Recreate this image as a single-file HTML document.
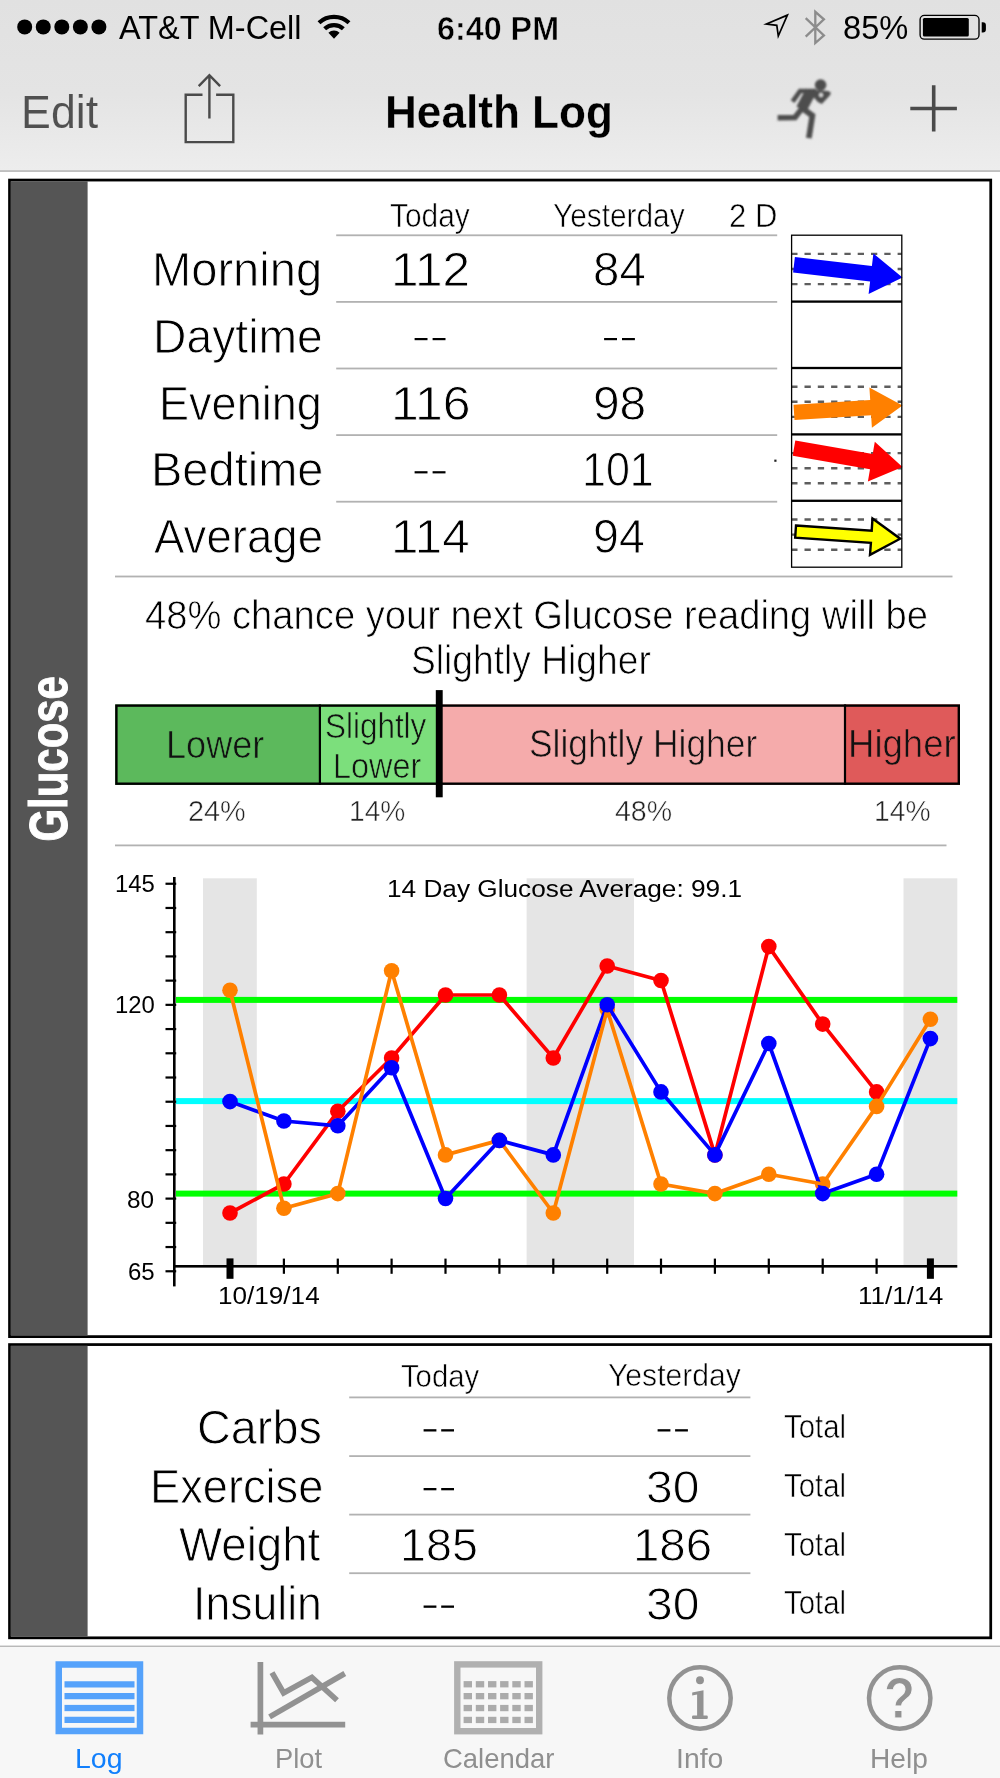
<!DOCTYPE html>
<html>
<head>
<meta charset="utf-8">
<title>Health Log</title>
<style>
html,body{margin:0;padding:0;background:#fff;}
body{width:1000px;height:1778px;overflow:hidden;font-family:"Liberation Sans",sans-serif;}
#root{position:relative;width:1000px;height:1778px;overflow:hidden;background:#fff;opacity:0.999;}
.t{position:absolute;white-space:nowrap;transform-origin:0 0;font-family:"Liberation Sans",sans-serif;color:#000;}
svg{position:absolute;left:0;top:0;}
</style>
</head>
<body>
<div id="root">
<svg width="1000" height="1778" viewBox="0 0 1000 1778">
<defs><linearGradient id="ng" x1="0" y1="0" x2="0" y2="1"><stop offset="0" stop-color="#e1e1e1"/><stop offset="0.55" stop-color="#e4e4e4"/><stop offset="1" stop-color="#ededed"/></linearGradient><filter id="bl" x="-10%" y="-10%" width="120%" height="120%"><feGaussianBlur stdDeviation="11"/></filter></defs>
<rect x="0" y="0" width="1000" height="170.6" fill="url(#ng)"/>
<rect x="0" y="170.3" width="1000" height="1.5" fill="#b0b0b0"/>
<circle cx="24.70" cy="26.9" r="7.5" fill="#000"/>
<circle cx="43.25" cy="26.9" r="7.5" fill="#000"/>
<circle cx="61.80" cy="26.9" r="7.5" fill="#000"/>
<circle cx="80.35" cy="26.9" r="7.5" fill="#000"/>
<circle cx="98.90" cy="26.9" r="7.5" fill="#000"/>
<path d="M319.00,22.71 A22,22 0 0 1 349.00,22.71" fill="none" stroke="#000" stroke-width="4.2"/>
<path d="M324.66,28.78 A13.7,13.7 0 0 1 343.34,28.78" fill="none" stroke="#000" stroke-width="4.2"/>
<path d="M334.0,38.8 L328.41,32.80 A8.2,8.2 0 0 1 339.59,32.80 Z" fill="#000"/>
<path d="M787.4,15.1 L766.4,24.0 L776.8,25.3 L778.3,36.0 Z" fill="none" stroke="#000" stroke-width="1.7" stroke-miterlimit="10" stroke-linejoin="miter"/>
<path d="M805.7,18.1 L823.9,35.4 L815.3,43.0 L815.3,11.8 L823.9,19.4 L805.7,36.7" fill="none" stroke="#8c8c8c" stroke-width="2.3" stroke-linejoin="miter"/>
<rect x="920.1" y="15.4" width="58.9" height="23.8" rx="4.2" ry="4.2" fill="none" stroke="#000" stroke-width="1.35"/>
<rect x="922.9" y="18.1" width="45.9" height="18.4" rx="1.5" fill="#000"/>
<path d="M981.7,22.2 h1.2 a3,3 0 0 1 3,3 v4.2 a3,3 0 0 1 -3,3 h-1.2 Z" fill="#000"/>
<path d="M202.5,94.8 H185.7 V142.1 H233.3 V94.8 H216.1" fill="none" stroke="#4a4a4a" stroke-width="2.4"/>
<path d="M209.4,118.6 V75.6 M198.7,86.2 L209.4,75.2 L220.1,86.2" fill="none" stroke="#4a4a4a" stroke-width="2.4"/>
<g transform="translate(765,70) scale(0.08)" fill="#4d4d4d" stroke="#4d4d4d" stroke-linecap="butt" stroke-linejoin="miter" filter="url(#bl)">
<circle cx="695" cy="188" r="72" stroke="none"/>
<path d="M420,262 H640" fill="none" stroke-width="55"/>
<path d="M570,270 L455,490" fill="none" stroke-width="140"/>
<path d="M440,262 L345,395" fill="none" stroke-width="58"/>
<path d="M610,250 L790,262 L825,285 L810,320 L710,425 L660,400 L590,320 Z" stroke="none"/>
<circle cx="700" cy="313" r="24" fill="#e5e5e5" stroke="none"/>
<path d="M470,470 L375,594 L158,596" fill="none" stroke-width="70"/>
<path d="M470,480 L592,570 L548,852" fill="none" stroke-width="72"/>
</g>
<path d="M910.3,108.5 H956.9 M933.7,85.2 V131.6" fill="none" stroke="#4a4a4a" stroke-width="3.6"/>
<rect x="9.53" y="180.07" width="981.20" height="1156.55" fill="#fff" stroke="#000" stroke-width="2.75"/>
<rect x="10.70" y="181.25" width="76.90" height="1154.20" fill="#555"/>
<rect x="9.53" y="1344.58" width="981.20" height="293.25" fill="#fff" stroke="#000" stroke-width="2.75"/>
<rect x="10.70" y="1345.75" width="76.90" height="290.90" fill="#555"/>
<rect x="336.2" y="234.4" width="441" height="1.8" fill="#b2b2b2"/>
<rect x="336.2" y="301.0" width="441" height="1.8" fill="#b2b2b2"/>
<rect x="336.2" y="367.6" width="441" height="1.8" fill="#b2b2b2"/>
<rect x="336.2" y="434.2" width="441" height="1.8" fill="#b2b2b2"/>
<rect x="336.2" y="500.8" width="441" height="1.8" fill="#b2b2b2"/>
<rect x="115" y="575.6" width="837.5" height="1.8" fill="#b2b2b2"/>
<rect x="115" y="844.5" width="831.5" height="1.8" fill="#b2b2b2"/>
<rect x="774.3" y="459.6" width="2.2" height="2.2" fill="#222"/>
<rect x="414.6" y="338.0" width="12.9" height="2.2" fill="#000"/><rect x="432.6" y="338.0" width="12.9" height="2.2" fill="#000"/>
<rect x="604.1" y="338.0" width="12.9" height="2.2" fill="#000"/><rect x="622.0" y="338.0" width="12.9" height="2.2" fill="#000"/>
<rect x="414.6" y="471.2" width="12.9" height="2.2" fill="#000"/><rect x="432.6" y="471.2" width="12.9" height="2.2" fill="#000"/>
<path d="M791.2,253.9 H901.8" stroke="#5e5e5e" stroke-width="2.4" stroke-dasharray="6.3 7" fill="none"/>
<path d="M791.2,269.0 H901.8" stroke="#5e5e5e" stroke-width="2.4" stroke-dasharray="6.3 7" fill="none"/>
<path d="M791.2,284.1 H901.8" stroke="#5e5e5e" stroke-width="2.4" stroke-dasharray="6.3 7" fill="none"/>
<path d="M791.2,386.7 H901.8" stroke="#5e5e5e" stroke-width="2.4" stroke-dasharray="6.3 7" fill="none"/>
<path d="M791.2,401.8 H901.8" stroke="#5e5e5e" stroke-width="2.4" stroke-dasharray="6.3 7" fill="none"/>
<path d="M791.2,416.9 H901.8" stroke="#5e5e5e" stroke-width="2.4" stroke-dasharray="6.3 7" fill="none"/>
<path d="M791.2,453.1 H901.8" stroke="#5e5e5e" stroke-width="2.4" stroke-dasharray="6.3 7" fill="none"/>
<path d="M791.2,468.2 H901.8" stroke="#5e5e5e" stroke-width="2.4" stroke-dasharray="6.3 7" fill="none"/>
<path d="M791.2,483.3 H901.8" stroke="#5e5e5e" stroke-width="2.4" stroke-dasharray="6.3 7" fill="none"/>
<path d="M791.2,519.5 H901.8" stroke="#5e5e5e" stroke-width="2.4" stroke-dasharray="6.3 7" fill="none"/>
<path d="M791.2,534.6 H901.8" stroke="#5e5e5e" stroke-width="2.4" stroke-dasharray="6.3 7" fill="none"/>
<path d="M791.2,549.7 H901.8" stroke="#5e5e5e" stroke-width="2.4" stroke-dasharray="6.3 7" fill="none"/>
<polygon points="794.9,257.0 871.9,266.0 873.4,253.5 902.5,277.5 868.6,294.1 870.1,281.6 793.1,272.5" fill="#0000ff"/>
<polygon points="793.5,404.8 870.2,399.9 869.4,387.4 902.5,405.5 871.9,427.7 871.1,415.2 794.5,420.0" fill="#ff8000"/>
<polygon points="795.3,440.5 872.7,454.0 874.8,441.8 902.5,467.1 867.9,481.5 870.0,469.3 792.7,455.7" fill="#ff0000"/>
<polygon points="796.0,525.5 871.7,530.6 872.5,518.5 900.2,538.7 870.0,554.9 870.9,542.9 795.2,537.7" fill="#ffff00" stroke="#000" stroke-width="2.4" stroke-linejoin="miter"/>
<rect x="791.6" y="235.2" width="110.2" height="332.0" fill="none" stroke="#000" stroke-width="1.3"/>
<rect x="791.6" y="300.45" width="110.2" height="2.3" fill="#000"/>
<rect x="791.6" y="366.85" width="110.2" height="2.3" fill="#000"/>
<rect x="791.6" y="433.25" width="110.2" height="2.3" fill="#000"/>
<rect x="791.6" y="499.65" width="110.2" height="2.3" fill="#000"/>
<rect x="115.2" y="704.4" width="204.7" height="80.5" fill="#5cb95c"/>
<rect x="319.9" y="704.4" width="119.1" height="80.5" fill="#7cdf7c"/>
<rect x="439" y="704.4" width="406.0" height="80.5" fill="#f5abab"/>
<rect x="845" y="704.4" width="115.0" height="80.5" fill="#df5a5a"/>
<rect x="116.4" y="705.6" width="842.4" height="78.1" fill="none" stroke="#000" stroke-width="2.4"/>
<rect x="318.79999999999995" y="704.4" width="2.2" height="80.5" fill="#000"/>
<rect x="843.9" y="704.4" width="2.2" height="80.5" fill="#000"/>
<rect x="435.8" y="690.1" width="6.9" height="107.2" fill="#000"/>
<rect x="203" y="878.3" width="53.8" height="386.7" fill="#e5e5e5"/>
<rect x="526.6" y="878.3" width="107.4" height="386.7" fill="#e5e5e5"/>
<rect x="903.5" y="878.3" width="53.8" height="386.7" fill="#e5e5e5"/>
<rect x="176" y="996.9" width="781.3" height="6" fill="#00ff00"/>
<rect x="176" y="1190.6" width="781.3" height="6" fill="#00ff00"/>
<rect x="176" y="1098.1" width="781.3" height="6" fill="#00ffff"/>
<rect x="173.0" y="877" width="2.6" height="409.4" fill="#000"/>
<rect x="174" y="1265.0" width="783.3" height="2.6" fill="#000"/>
<rect x="165.5" y="882.65" width="10.7" height="2.2" fill="#000"/>
<rect x="165.5" y="906.87" width="10.7" height="2.2" fill="#000"/>
<rect x="165.5" y="931.09" width="10.7" height="2.2" fill="#000"/>
<rect x="165.5" y="955.31" width="10.7" height="2.2" fill="#000"/>
<rect x="165.5" y="979.53" width="10.7" height="2.2" fill="#000"/>
<rect x="165.5" y="1003.75" width="10.7" height="2.2" fill="#000"/>
<rect x="165.5" y="1027.97" width="10.7" height="2.2" fill="#000"/>
<rect x="165.5" y="1052.19" width="10.7" height="2.2" fill="#000"/>
<rect x="165.5" y="1076.41" width="10.7" height="2.2" fill="#000"/>
<rect x="165.5" y="1100.63" width="10.7" height="2.2" fill="#000"/>
<rect x="165.5" y="1124.85" width="10.7" height="2.2" fill="#000"/>
<rect x="165.5" y="1149.07" width="10.7" height="2.2" fill="#000"/>
<rect x="165.5" y="1173.29" width="10.7" height="2.2" fill="#000"/>
<rect x="165.5" y="1197.51" width="10.7" height="2.2" fill="#000"/>
<rect x="165.5" y="1221.73" width="10.7" height="2.2" fill="#000"/>
<rect x="165.5" y="1245.95" width="10.7" height="2.2" fill="#000"/>
<rect x="165.5" y="1270.17" width="10.7" height="2.2" fill="#000"/>
<rect x="226.5" y="1258.4" width="7" height="20.4" fill="#000"/>
<rect x="282.8" y="1258.6" width="2.2" height="15.2" fill="#000"/>
<rect x="336.7" y="1258.6" width="2.2" height="15.2" fill="#000"/>
<rect x="390.5" y="1258.6" width="2.2" height="15.2" fill="#000"/>
<rect x="444.4" y="1258.6" width="2.2" height="15.2" fill="#000"/>
<rect x="498.3" y="1258.6" width="2.2" height="15.2" fill="#000"/>
<rect x="552.2" y="1258.6" width="2.2" height="15.2" fill="#000"/>
<rect x="606.1" y="1258.6" width="2.2" height="15.2" fill="#000"/>
<rect x="659.9" y="1258.6" width="2.2" height="15.2" fill="#000"/>
<rect x="713.8" y="1258.6" width="2.2" height="15.2" fill="#000"/>
<rect x="767.7" y="1258.6" width="2.2" height="15.2" fill="#000"/>
<rect x="821.6" y="1258.6" width="2.2" height="15.2" fill="#000"/>
<rect x="875.5" y="1258.6" width="2.2" height="15.2" fill="#000"/>
<rect x="926.9" y="1258.4" width="7" height="20.4" fill="#000"/>
<polyline points="230.0,1213.0 283.9,1184.0 337.8,1111.3 391.6,1058.0 445.5,995.0 499.4,995.0 553.3,1058.0 607.2,966.0 661.0,980.5 714.9,1154.9 768.8,946.6 822.7,1024.1 876.6,1091.9" fill="none" stroke="#ff0000" stroke-width="3.7" stroke-linejoin="round"/>
<circle cx="230.0" cy="1213.0" r="7.8" fill="#ff0000"/>
<circle cx="283.9" cy="1184.0" r="7.8" fill="#ff0000"/>
<circle cx="337.8" cy="1111.3" r="7.8" fill="#ff0000"/>
<circle cx="391.6" cy="1058.0" r="7.8" fill="#ff0000"/>
<circle cx="445.5" cy="995.0" r="7.8" fill="#ff0000"/>
<circle cx="499.4" cy="995.0" r="7.8" fill="#ff0000"/>
<circle cx="553.3" cy="1058.0" r="7.8" fill="#ff0000"/>
<circle cx="607.2" cy="966.0" r="7.8" fill="#ff0000"/>
<circle cx="661.0" cy="980.5" r="7.8" fill="#ff0000"/>
<circle cx="714.9" cy="1154.9" r="7.8" fill="#ff0000"/>
<circle cx="768.8" cy="946.6" r="7.8" fill="#ff0000"/>
<circle cx="822.7" cy="1024.1" r="7.8" fill="#ff0000"/>
<circle cx="876.6" cy="1091.9" r="7.8" fill="#ff0000"/>
<circle cx="230.0" cy="990.2" r="7.8" fill="#ff8000"/>
<circle cx="283.9" cy="1208.2" r="7.8" fill="#ff8000"/>
<circle cx="337.8" cy="1193.6" r="7.8" fill="#ff8000"/>
<circle cx="391.6" cy="970.8" r="7.8" fill="#ff8000"/>
<circle cx="445.5" cy="1154.9" r="7.8" fill="#ff8000"/>
<circle cx="499.4" cy="1140.4" r="7.8" fill="#ff8000"/>
<circle cx="553.3" cy="1213.0" r="7.8" fill="#ff8000"/>
<circle cx="607.2" cy="1009.6" r="7.8" fill="#ff8000"/>
<circle cx="661.0" cy="1184.0" r="7.8" fill="#ff8000"/>
<circle cx="714.9" cy="1193.6" r="7.8" fill="#ff8000"/>
<circle cx="768.8" cy="1174.3" r="7.8" fill="#ff8000"/>
<circle cx="822.7" cy="1184.0" r="7.8" fill="#ff8000"/>
<circle cx="876.6" cy="1106.4" r="7.8" fill="#ff8000"/>
<circle cx="930.4" cy="1019.3" r="7.8" fill="#ff8000"/>
<polyline points="230.0,1101.6 283.9,1121.0 337.8,1125.8 391.6,1067.7 445.5,1198.5 499.4,1140.4 553.3,1154.9 607.2,1004.7 661.0,1091.9 714.9,1154.9 768.8,1043.5 822.7,1193.6 876.6,1174.3 930.4,1038.6" fill="none" stroke="#0000ff" stroke-width="3.7" stroke-linejoin="round"/>
<polyline points="230.0,990.2 283.9,1208.2 337.8,1193.6 391.6,970.8 445.5,1154.9 499.4,1140.4 553.3,1213.0 607.2,1009.6 661.0,1184.0 714.9,1193.6 768.8,1174.3 822.7,1184.0 876.6,1106.4 930.4,1019.3" fill="none" stroke="#ff8000" stroke-width="3.7" stroke-linejoin="round"/>
<circle cx="230.0" cy="1101.6" r="7.8" fill="#0000ff"/>
<circle cx="283.9" cy="1121.0" r="7.8" fill="#0000ff"/>
<circle cx="337.8" cy="1125.8" r="7.8" fill="#0000ff"/>
<circle cx="391.6" cy="1067.7" r="7.8" fill="#0000ff"/>
<circle cx="445.5" cy="1198.5" r="7.8" fill="#0000ff"/>
<circle cx="499.4" cy="1140.4" r="7.8" fill="#0000ff"/>
<circle cx="553.3" cy="1154.9" r="7.8" fill="#0000ff"/>
<circle cx="607.2" cy="1004.7" r="7.8" fill="#0000ff"/>
<circle cx="661.0" cy="1091.9" r="7.8" fill="#0000ff"/>
<circle cx="714.9" cy="1154.9" r="7.8" fill="#0000ff"/>
<circle cx="768.8" cy="1043.5" r="7.8" fill="#0000ff"/>
<circle cx="822.7" cy="1193.6" r="7.8" fill="#0000ff"/>
<circle cx="876.6" cy="1174.3" r="7.8" fill="#0000ff"/>
<circle cx="930.4" cy="1038.6" r="7.8" fill="#0000ff"/>
<rect x="349.2" y="1396.5" width="401.2" height="1.8" fill="#b2b2b2"/>
<rect x="349.2" y="1455.2" width="401.2" height="1.8" fill="#b2b2b2"/>
<rect x="349.2" y="1513.7" width="401.2" height="1.8" fill="#b2b2b2"/>
<rect x="349.2" y="1572.3" width="401.2" height="1.8" fill="#b2b2b2"/>
<rect x="423.6" y="1429.2" width="12.8" height="2.3" fill="#000"/><rect x="441.2" y="1429.2" width="12.8" height="2.3" fill="#000"/>
<rect x="657.6" y="1429.2" width="12.8" height="2.3" fill="#000"/><rect x="675.1" y="1429.2" width="12.8" height="2.3" fill="#000"/>
<rect x="423.6" y="1488.0" width="12.8" height="2.3" fill="#000"/><rect x="441.2" y="1488.0" width="12.8" height="2.3" fill="#000"/>
<rect x="423.6" y="1605.5" width="12.8" height="2.3" fill="#000"/><rect x="441.2" y="1605.5" width="12.8" height="2.3" fill="#000"/>
<rect x="0" y="1646.2" width="1000" height="131.8" fill="#f7f7f7"/>
<rect x="0" y="1645.6" width="1000" height="1.3" fill="#b2b2b2"/>
<rect x="58.75" y="1664.5" width="81.25" height="66.5" fill="none" stroke="#55a2fb" stroke-width="6.5"/>
<rect x="64.5" y="1681.25" width="70" height="6.25" fill="#55a2fb"/>
<rect x="64.5" y="1693.0" width="70" height="6.25" fill="#55a2fb"/>
<rect x="64.5" y="1704.9" width="70" height="6.25" fill="#55a2fb"/>
<rect x="64.5" y="1716.75" width="70" height="6.25" fill="#55a2fb"/>
<path d="M260.4,1661.9 V1734.4 M250.6,1724.6 H345.2" stroke="#929292" stroke-width="5.7" fill="none"/>
<path d="M272.0,1672.6 L283.6,1693.0 L311.9,1677.4 L337.0,1700.2" stroke="#929292" stroke-width="5.6" fill="none" stroke-linejoin="miter"/>
<path d="M269.6,1716.9 L344.8,1673.5" stroke="#929292" stroke-width="5.6" fill="none"/>
<rect x="457.3" y="1664.4" width="81.9" height="66.8" fill="none" stroke="#b0b0b0" stroke-width="6.4"/>
<rect x="463.6" y="1681.1" width="8.4" height="6.3" fill="#ababab"/>
<rect x="475.8" y="1681.1" width="8.4" height="6.3" fill="#ababab"/>
<rect x="488.0" y="1681.1" width="8.4" height="6.3" fill="#ababab"/>
<rect x="500.1" y="1681.1" width="8.4" height="6.3" fill="#ababab"/>
<rect x="512.3" y="1681.1" width="8.4" height="6.3" fill="#ababab"/>
<rect x="524.5" y="1681.1" width="8.4" height="6.3" fill="#ababab"/>
<rect x="463.6" y="1693.0" width="8.4" height="6.3" fill="#ababab"/>
<rect x="475.8" y="1693.0" width="8.4" height="6.3" fill="#ababab"/>
<rect x="488.0" y="1693.0" width="8.4" height="6.3" fill="#ababab"/>
<rect x="500.1" y="1693.0" width="8.4" height="6.3" fill="#ababab"/>
<rect x="512.3" y="1693.0" width="8.4" height="6.3" fill="#ababab"/>
<rect x="524.5" y="1693.0" width="8.4" height="6.3" fill="#ababab"/>
<rect x="463.6" y="1704.9" width="8.4" height="6.3" fill="#ababab"/>
<rect x="475.8" y="1704.9" width="8.4" height="6.3" fill="#ababab"/>
<rect x="488.0" y="1704.9" width="8.4" height="6.3" fill="#ababab"/>
<rect x="500.1" y="1704.9" width="8.4" height="6.3" fill="#ababab"/>
<rect x="512.3" y="1704.9" width="8.4" height="6.3" fill="#ababab"/>
<rect x="524.5" y="1704.9" width="8.4" height="6.3" fill="#ababab"/>
<rect x="463.6" y="1716.8" width="8.4" height="6.3" fill="#ababab"/>
<rect x="475.8" y="1716.8" width="8.4" height="6.3" fill="#ababab"/>
<rect x="488.0" y="1716.8" width="8.4" height="6.3" fill="#ababab"/>
<rect x="500.1" y="1716.8" width="8.4" height="6.3" fill="#ababab"/>
<rect x="512.3" y="1716.8" width="8.4" height="6.3" fill="#ababab"/>
<rect x="524.5" y="1716.8" width="8.4" height="6.3" fill="#ababab"/>
<circle cx="700" cy="1698" r="30.7" fill="none" stroke="#929292" stroke-width="4.5"/>
<circle cx="700" cy="1680.2" r="3.95" fill="#929292"/>
<path d="M697.1,1718.9 V1694.6 L692.2,1695.4 V1692.6 L703.5,1690.2 V1718.9 Z" fill="#929292"/>
<rect x="692.0" y="1715.6" width="15.8" height="3.4" rx="1.2" fill="#929292"/>
<circle cx="899.7" cy="1698" r="30.7" fill="none" stroke="#929292" stroke-width="4.5"/>
<text transform="translate(899.4,1717.9) scale(0.9,1)" x="0" y="0" font-family="Liberation Sans" font-weight="bold" font-size="57" text-anchor="middle" fill="#929292" stroke="#f7f7f7" stroke-width="1">?</text>
</svg>
<div class="t" style="left:0;top:0;font-size:54px;line-height:54px;font-weight:700;color:#fff;-webkit-text-stroke:1px #fff;transform-origin:0 0;transform:translate(67.2px,841.5px) rotate(-90deg) scaleX(0.776) translateY(-45.71px);">Glucose</div>
<span class="t" style="left:118.50px;top:11.00px;font-size:33.3px;line-height:33.3px;transform:scaleX(0.9734);">AT&amp;T M-Cell</span>
<span class="t" style="left:437.12px;top:12.00px;font-size:32.99px;line-height:32.99px;font-weight:700;-webkit-text-stroke:0.5px #e3e3e3;transform:scaleX(0.9789);">6:40 PM</span>
<span class="t" style="left:843.02px;top:11.00px;font-size:33.3px;line-height:33.3px;transform:scaleX(0.9795);">85%</span>
<span class="t" style="left:21.34px;top:88.00px;font-size:47.05px;line-height:47.05px;color:#505050;-webkit-text-stroke:0.15px #e6e6e6;transform:scaleX(0.9526);">Edit</span>
<span class="t" style="left:384.86px;top:89.00px;font-size:46.54px;line-height:46.54px;font-weight:700;-webkit-text-stroke:0.3px #e6e6e6;transform:scaleX(0.9482);">Health Log</span>
<span class="t" style="left:390.00px;top:200.00px;font-size:32.41px;line-height:32.41px;-webkit-text-stroke:0.6px #fff;transform:scaleX(0.9224);">Today</span>
<span class="t" style="left:553.20px;top:200.00px;font-size:32.41px;line-height:32.41px;-webkit-text-stroke:0.6px #fff;transform:scaleX(0.9205);">Yesterday</span>
<span class="t" style="left:729.24px;top:200.00px;font-size:32.41px;line-height:32.41px;-webkit-text-stroke:0.6px #fff;transform:scaleX(0.9578);">2 D</span>
<span class="t" style="left:151.66px;top:245.00px;font-size:48.14px;line-height:48.14px;-webkit-text-stroke:0.9px #fff;transform:scaleX(0.9786);">Morning</span>
<span class="t" style="left:391.31px;top:245.00px;font-size:48.14px;line-height:48.14px;-webkit-text-stroke:0.9px #fff;transform:scaleX(1.0298);">112</span>
<span class="t" style="left:592.53px;top:245.00px;font-size:48.14px;line-height:48.14px;-webkit-text-stroke:0.9px #fff;transform:scaleX(0.9869);">84</span>
<span class="t" style="left:153.32px;top:312.00px;font-size:48.14px;line-height:48.14px;-webkit-text-stroke:0.9px #fff;transform:scaleX(0.9614);">Daytime</span>
<span class="t" style="left:158.79px;top:379.00px;font-size:48.14px;line-height:48.14px;-webkit-text-stroke:0.9px #fff;transform:scaleX(0.9367);">Evening</span>
<span class="t" style="left:391.29px;top:379.00px;font-size:48.14px;line-height:48.14px;-webkit-text-stroke:0.9px #fff;transform:scaleX(1.0381);">116</span>
<span class="t" style="left:593.41px;top:379.00px;font-size:48.14px;line-height:48.14px;-webkit-text-stroke:0.9px #fff;transform:scaleX(0.9947);">98</span>
<span class="t" style="left:150.57px;top:445.00px;font-size:48.14px;line-height:48.14px;-webkit-text-stroke:0.9px #fff;transform:scaleX(0.9768);">Bedtime</span>
<span class="t" style="left:582.22px;top:445.00px;font-size:48.14px;line-height:48.14px;-webkit-text-stroke:0.9px #fff;transform:scaleX(0.8937);">101</span>
<span class="t" style="left:153.60px;top:512.00px;font-size:48.14px;line-height:48.14px;-webkit-text-stroke:0.9px #fff;transform:scaleX(0.9478);">Average</span>
<span class="t" style="left:391.33px;top:512.00px;font-size:48.14px;line-height:48.14px;-webkit-text-stroke:0.9px #fff;transform:scaleX(1.0239);">114</span>
<span class="t" style="left:593.46px;top:512.00px;font-size:48.14px;line-height:48.14px;-webkit-text-stroke:0.9px #fff;transform:scaleX(0.9692);">94</span>
<span class="t" style="left:145.10px;top:596.00px;font-size:39.91px;line-height:39.91px;-webkit-text-stroke:0.75px #fff;transform:scaleX(0.9566);">48% chance your next Glucose reading will be</span>
<span class="t" style="left:410.97px;top:641.00px;font-size:39.91px;line-height:39.91px;-webkit-text-stroke:0.75px #fff;transform:scaleX(0.9320);">Slightly Higher</span>
<span class="t" style="left:166.18px;top:726.00px;font-size:38.48px;line-height:38.48px;color:#111;-webkit-text-stroke:0.7px #5cb95c;transform:scaleX(0.9386);">Lower</span>
<span class="t" style="left:325.38px;top:709.00px;font-size:34.25px;line-height:34.25px;color:#111;-webkit-text-stroke:0.65px #7cdf7c;transform:scaleX(0.9176);">Slightly</span>
<span class="t" style="left:332.71px;top:749.00px;font-size:34.25px;line-height:34.25px;color:#111;-webkit-text-stroke:0.65px #7cdf7c;transform:scaleX(0.9463);">Lower</span>
<span class="t" style="left:529.08px;top:725.00px;font-size:38.48px;line-height:38.48px;color:#111;-webkit-text-stroke:0.7px #f5abab;transform:scaleX(0.9203);">Slightly Higher</span>
<span class="t" style="left:848.15px;top:725.00px;font-size:38.48px;line-height:38.48px;color:#111;-webkit-text-stroke:0.7px #df5a5a;transform:scaleX(0.9501);">Higher</span>
<span class="t" style="left:187.80px;top:797.00px;font-size:28.83px;line-height:28.83px;color:#222;-webkit-text-stroke:0.5px #fff;transform:scaleX(1.0006);">24%</span>
<span class="t" style="left:348.75px;top:797.00px;font-size:28.83px;line-height:28.83px;color:#222;-webkit-text-stroke:0.5px #fff;transform:scaleX(0.9770);">14%</span>
<span class="t" style="left:615.00px;top:797.00px;font-size:28.83px;line-height:28.83px;color:#222;-webkit-text-stroke:0.5px #fff;transform:scaleX(0.9901);">48%</span>
<span class="t" style="left:874.04px;top:797.00px;font-size:28.83px;line-height:28.83px;color:#222;-webkit-text-stroke:0.5px #fff;transform:scaleX(0.9806);">14%</span>
<span class="t" style="left:386.92px;top:877.00px;font-size:24.35px;line-height:24.35px;transform:scaleX(1.0766);">14 Day Glucose Average: 99.1</span>
<span class="t" style="left:114.52px;top:872.00px;font-size:24.35px;line-height:24.35px;transform:scaleX(0.9801);">145</span>
<span class="t" style="left:114.52px;top:993.00px;font-size:24.35px;line-height:24.35px;transform:scaleX(0.9801);">120</span>
<span class="t" style="left:127.30px;top:1188.00px;font-size:24.35px;line-height:24.35px;transform:scaleX(0.9985);">80</span>
<span class="t" style="left:127.61px;top:1260.00px;font-size:24.35px;line-height:24.35px;transform:scaleX(0.9867);">65</span>
<span class="t" style="left:217.73px;top:1284.00px;font-size:24.35px;line-height:24.35px;transform:scaleX(1.0727);">10/19/14</span>
<span class="t" style="left:857.83px;top:1284.00px;font-size:24.35px;line-height:24.35px;transform:scaleX(1.0722);">11/1/14</span>
<span class="t" style="left:400.50px;top:1360.00px;font-size:32.09px;line-height:32.09px;-webkit-text-stroke:0.6px #fff;transform:scaleX(0.9117);">Today</span>
<span class="t" style="left:607.60px;top:1359.00px;font-size:32.09px;line-height:32.09px;-webkit-text-stroke:0.6px #fff;transform:scaleX(0.9389);">Yesterday</span>
<span class="t" style="left:196.75px;top:1403.00px;font-size:48.14px;line-height:48.14px;-webkit-text-stroke:0.9px #fff;transform:scaleX(0.9728);">Carbs</span>
<span class="t" style="left:783.60px;top:1410.00px;font-size:33.13px;line-height:33.13px;-webkit-text-stroke:0.6px #fff;transform:scaleX(0.8876);">Total</span>
<span class="t" style="left:149.58px;top:1462.00px;font-size:48.14px;line-height:48.14px;-webkit-text-stroke:0.9px #fff;transform:scaleX(0.9395);">Exercise</span>
<span class="t" style="left:646.18px;top:1464.00px;font-size:46.89px;line-height:46.89px;-webkit-text-stroke:0.9px #fff;transform:scaleX(1.0246);">30</span>
<span class="t" style="left:783.60px;top:1469.00px;font-size:33.13px;line-height:33.13px;-webkit-text-stroke:0.6px #fff;transform:scaleX(0.8876);">Total</span>
<span class="t" style="left:179.10px;top:1520.00px;font-size:48.14px;line-height:48.14px;-webkit-text-stroke:0.9px #fff;transform:scaleX(0.9489);">Weight</span>
<span class="t" style="left:399.81px;top:1522.00px;font-size:46.89px;line-height:46.89px;-webkit-text-stroke:0.9px #fff;transform:scaleX(0.9954);">185</span>
<span class="t" style="left:632.97px;top:1522.00px;font-size:46.89px;line-height:46.89px;-webkit-text-stroke:0.9px #fff;transform:scaleX(1.0116);">186</span>
<span class="t" style="left:783.60px;top:1528.00px;font-size:33.13px;line-height:33.13px;-webkit-text-stroke:0.6px #fff;transform:scaleX(0.8876);">Total</span>
<span class="t" style="left:192.99px;top:1579.00px;font-size:48.14px;line-height:48.14px;-webkit-text-stroke:0.9px #fff;transform:scaleX(0.9264);">Insulin</span>
<span class="t" style="left:646.18px;top:1581.00px;font-size:46.89px;line-height:46.89px;-webkit-text-stroke:0.9px #fff;transform:scaleX(1.0246);">30</span>
<span class="t" style="left:783.60px;top:1586.00px;font-size:33.13px;line-height:33.13px;-webkit-text-stroke:0.6px #fff;transform:scaleX(0.8876);">Total</span>
<span class="t" style="left:75.39px;top:1746.00px;font-size:27.06px;line-height:27.06px;color:#117ffc;transform:scaleX(1.0526);">Log</span>
<span class="t" style="left:274.88px;top:1746.00px;font-size:27.06px;line-height:27.06px;color:#8f8f8f;transform:scaleX(1.0091);">Plot</span>
<span class="t" style="left:442.59px;top:1746.00px;font-size:27.06px;line-height:27.06px;color:#8f8f8f;transform:scaleX(1.0142);">Calendar</span>
<span class="t" style="left:675.50px;top:1746.00px;font-size:27.06px;line-height:27.06px;color:#8f8f8f;transform:scaleX(1.0482);">Info</span>
<span class="t" style="left:869.92px;top:1746.00px;font-size:27.06px;line-height:27.06px;color:#8f8f8f;transform:scaleX(1.0383);">Help</span>
</div>
</body>
</html>
